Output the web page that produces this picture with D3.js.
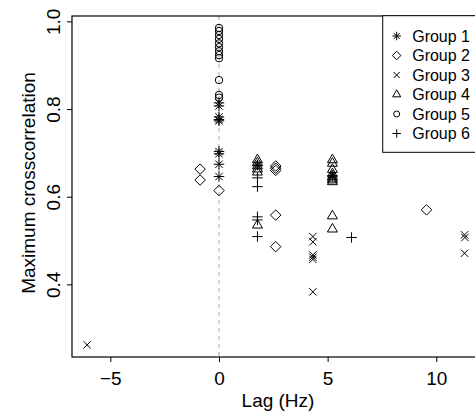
<!DOCTYPE html>
<html>
<head>
<meta charset="utf-8">
<script src="https://cdn.jsdelivr.net/npm/d3@7"></script>
<style>
  body { margin: 0; background: #fff; }
  text { font-family: "Liberation Sans", Arial, Helvetica, sans-serif; fill: #000; }
</style>
</head>
<body>
<div id="chart"></div>
<script>
// data (lag in Hz, maximum crosscorrelation)
var groupNames = ["Group 1", "Group 2", "Group 3", "Group 4", "Group 5", "Group 6"];
var groupSymbols = ["star", "diamond", "cross", "triangle", "circle", "plus"];

var g1Lag = [0, 0, 0, 0, 0, 0, 0, 0, 0, 1.77, 5.22];
var g1Val = [0.814, 0.807, 0.782, 0.776, 0.773, 0.703, 0.698, 0.674, 0.646, 0.672, 0.648];

var g2Lag = [-0.87, -0.87, 0, 2.61, 2.61, 2.61, 2.61, 2.61, 9.55];
var g2Val = [0.663, 0.638, 0.614, 0.670, 0.665, 0.660, 0.558, 0.486, 0.570];

var g3Lag = [-6.07, 4.32, 4.32, 4.32, 4.32, 4.32, 4.32, 11.3, 11.32, 11.3];
var g3Val = [0.262, 0.509, 0.497, 0.467, 0.462, 0.457, 0.383, 0.513, 0.507, 0.471];

var g4Lag = [1.77, 1.77, 1.77, 1.77, 1.77, 1.77, 5.22, 5.22, 5.22, 5.22, 5.22, 5.22, 5.22, 5.22, 5.22, 5.22];
var g4Val = [0.684, 0.677, 0.670, 0.663, 0.656, 0.535, 0.684, 0.676, 0.662, 0.652, 0.646, 0.642, 0.638, 0.634, 0.556, 0.526];

var g5Lag = [0, 0, 0, 0, 0, 0, 0, 0, 0, 0, 0, 0];
var g5Val = [0.985, 0.978, 0.969, 0.960, 0.950, 0.941, 0.932, 0.923, 0.916, 0.866, 0.832, 0.826];

var g6Lag = [1.77, 1.77, 1.77, 1.77, 1.77, 6.1];
var g6Val = [0.643, 0.623, 0.554, 0.547, 0.509, 0.507];

var xTicks = [-5, 0, 5, 10];
var yTicks = [0.4, 0.6, 0.8, 1.0];

var allLags = [g1Lag, g2Lag, g3Lag, g4Lag, g5Lag, g6Lag];
var allVals = [g1Val, g2Val, g3Val, g4Val, g5Val, g6Val];

var points = [];
allLags.forEach(function(lags, gi) {
  lags.forEach(function(l, i) {
    points.push({ lag: l, value: allVals[gi][i], sym: groupSymbols[gi] });
  });
});

// R-style plotting symbols, r = base radius
function symbolPath(type, r) {
  var p = d3.path();
  var s2 = Math.SQRT2 * r;
  if (type === "circle") {
    p.moveTo(r, 0);
    p.arc(0, 0, r, 0, 2 * Math.PI);
  } else if (type === "diamond") {
    p.moveTo(0, -s2); p.lineTo(s2, 0); p.lineTo(0, s2); p.lineTo(-s2, 0); p.closePath();
  } else if (type === "triangle") {
    var t = 1.5551 * r;
    p.moveTo(0, -t); p.lineTo(t * 0.866, t / 2); p.lineTo(-t * 0.866, t / 2); p.closePath();
  } else if (type === "cross") {
    p.moveTo(-r, -r); p.lineTo(r, r); p.moveTo(-r, r); p.lineTo(r, -r);
  } else if (type === "plus") {
    p.moveTo(-s2, 0); p.lineTo(s2, 0); p.moveTo(0, -s2); p.lineTo(0, s2);
  } else if (type === "star") {
    p.moveTo(-s2, 0); p.lineTo(s2, 0); p.moveTo(0, -s2); p.lineTo(0, s2);
    p.moveTo(-r, -r); p.lineTo(r, r); p.moveTo(-r, r); p.lineTo(r, -r);
  }
  return p.toString();
}

var margin = {top: 16, right: 0, bottom: 55, left: 72},
    width = 406,
    height = 341;

var svg = d3.select("#chart")
  .append("svg")
    .attr("width", 475)
    .attr("height", 412);

var g = svg.append("g")
    .attr("transform", "translate(" + margin.left + "," + margin.top + ")");

var x = d3.scaleLinear().domain([-6.765, 11.92]).range([0, width]);
var y = d3.scaleLinear().domain([0.2343, 1.0122]).range([height, 0]);

// dashed line at zero lag
g.append("line")
  .attr("x1", x(0)).attr("x2", x(0))
  .attr("y1", 0).attr("y2", height)
  .attr("stroke", "#aaa")
  .attr("stroke-width", 1)
  .attr("stroke-dasharray", "4,4");

// points
g.selectAll(".pt")
  .data(points)
  .enter().append("path")
    .attr("class", "pt")
    .attr("transform", function(d) { return "translate(" + x(d.lag) + "," + y(d.value) + ")"; })
    .attr("d", function(d) { return symbolPath(d.sym, 3.7); })
    .attr("fill", "none")
    .attr("stroke", "#000")
    .attr("stroke-width", 1);

// frame
g.append("rect")
  .attr("x", 0).attr("y", 0)
  .attr("width", width).attr("height", height)
  .attr("fill", "none")
  .attr("stroke", "#000")
  .attr("stroke-width", 1.2);

// x axis
var xAxis = g.append("g")
  .attr("transform", "translate(0," + height + ")")
  .call(d3.axisBottom(x).tickValues(xTicks).tickSize(5).tickPadding(10).tickFormat(d3.format("d")));
xAxis.select(".domain").remove();
xAxis.selectAll("text").style("font-size", "19px").attr("fill", "#000");
xAxis.selectAll("line").attr("stroke", "#000");

// y axis, labels rotated like R
var yAxis = g.append("g")
  .call(d3.axisLeft(y).tickValues(yTicks).tickSize(5).tickFormat(d3.format(".1f")));
yAxis.select(".domain").remove();
yAxis.selectAll("line").attr("stroke", "#000");
yAxis.selectAll("text")
  .style("font-size", "19px")
  .attr("fill", "#000")
  .attr("x", null).attr("dy", null)
  .attr("text-anchor", "middle")
  .attr("transform", "translate(-12,0) rotate(-90)");

// axis titles
svg.append("text")
  .attr("x", 278).attr("y", 407)
  .attr("text-anchor", "middle")
  .style("font-size", "19px")
  .text("Lag (Hz)");

svg.append("text")
  .attr("transform", "translate(35,183) rotate(-90)")
  .attr("text-anchor", "middle")
  .style("font-size", "19px")
  .text("Maximum crosscorrelation");

// legend
var legend = svg.append("g");
legend.append("rect")
  .attr("x", 382.7).attr("y", 15.7)
  .attr("width", 110).attr("height", 136.6)
  .attr("fill", "#fff")
  .attr("stroke", "#000")
  .attr("stroke-width", 1);

var rows = legend.selectAll(".row")
  .data(groupNames)
  .enter().append("g")
    .attr("transform", function(d, i) { return "translate(396.7," + (36 + i * 19.5) + ")"; });

rows.append("path")
  .attr("d", function(d, i) { return symbolPath(groupSymbols[i], 3); })
  .attr("fill", "none")
  .attr("stroke", "#000")
  .attr("stroke-width", 1);

rows.append("text")
  .attr("x", 15.5).attr("y", 5.6)
  .style("font-size", "16px")
  .text(function(d) { return d; });
</script>
</body>
</html>
